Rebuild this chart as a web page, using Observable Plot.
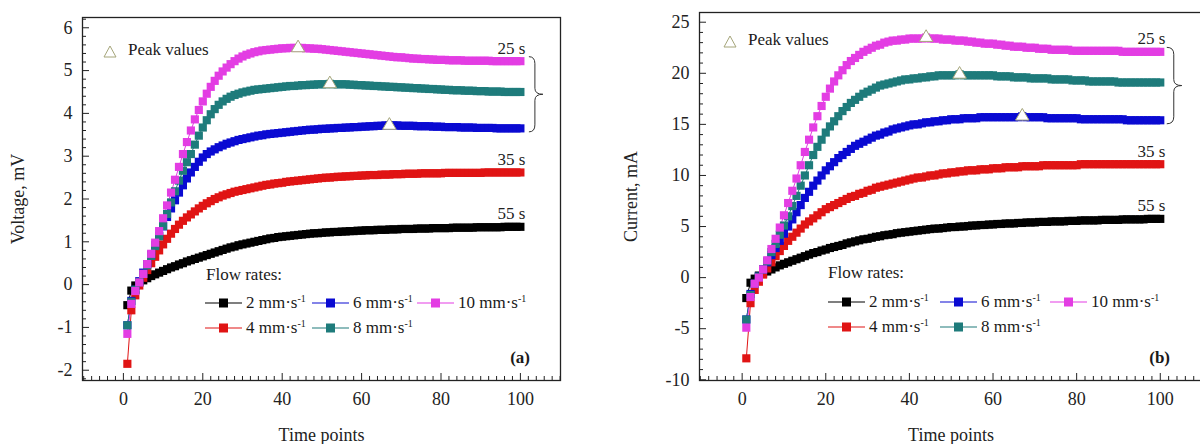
<!DOCTYPE html>
<html><head><meta charset="utf-8">
<script src="https://cdn.jsdelivr.net/npm/d3@7"></script>
<script src="https://cdn.jsdelivr.net/npm/@observablehq/plot@0.6"></script>
<style>
body{margin:0;background:#fff;font-family:"Liberation Serif",serif;}
#wrap{position:relative;width:1200px;height:444px;overflow:hidden;background:#fff;}
.panel{position:absolute;top:0;}
.ov{position:absolute;font-size:17px;color:#1a1a1a;white-space:nowrap;line-height:20px;font-family:"Liberation Serif",serif;}
.item{display:flex;align-items:center;}
.item svg{margin-right:4px;}
sup{font-size:10px;vertical-align:6px;line-height:0;}
</style></head><body><div id="wrap"></div>
<script>
// ---------- data ----------
const time = Array.from({length: 100}, (_, i) => i + 1);
const series = ["2", "4", "6", "8", "10"];
const seriesLabels = ["2 mm·s", "4 mm·s", "6 mm·s", "8 mm·s", "10 mm·s"];
const colors = ["#000000", "#e01414", "#0a0ad2", "#1e7b7b", "#e33de3"];

// Voltage (mV), panel (a)
const volt2 = [-0.48,-0.14,-0.02,0.05,0.10,0.15,0.20,0.24,0.28,0.32,
0.36,0.40,0.43,0.47,0.50,0.54,0.57,0.60,0.63,0.66,
0.69,0.72,0.75,0.78,0.81,0.84,0.87,0.89,0.92,0.94,
0.96,0.98,1.00,1.02,1.04,1.06,1.08,1.09,1.11,1.12,
1.13,1.14,1.15,1.16,1.17,1.18,1.19,1.20,1.20,1.21,
1.22,1.22,1.23,1.23,1.24,1.24,1.25,1.25,1.26,1.26,
1.27,1.27,1.27,1.28,1.28,1.28,1.29,1.29,1.29,1.30,
1.30,1.30,1.30,1.31,1.31,1.31,1.31,1.32,1.32,1.32,
1.32,1.32,1.33,1.33,1.33,1.33,1.33,1.33,1.34,1.34,
1.34,1.34,1.34,1.34,1.34,1.35,1.35,1.35,1.35,1.35];
const volt4 = [-1.85,-0.60,-0.25,-0.02,0.16,0.34,0.50,0.65,0.80,0.94,
1.07,1.19,1.30,1.40,1.49,1.57,1.64,1.71,1.78,1.84,
1.90,1.95,2.00,2.04,2.08,2.11,2.14,2.17,2.19,2.21,
2.23,2.25,2.27,2.29,2.31,2.33,2.34,2.36,2.37,2.38,
2.40,2.41,2.42,2.43,2.44,2.45,2.46,2.47,2.48,2.49,
2.50,2.50,2.51,2.52,2.52,2.53,2.53,2.54,2.54,2.55,
2.55,2.56,2.56,2.56,2.57,2.57,2.57,2.58,2.58,2.58,
2.59,2.59,2.59,2.59,2.60,2.60,2.60,2.60,2.60,2.60,
2.61,2.61,2.61,2.61,2.61,2.61,2.61,2.61,2.61,2.61,
2.62,2.62,2.62,2.62,2.62,2.62,2.62,2.62,2.62,2.62];
const volt6 = [-0.95,-0.38,-0.12,0.08,0.28,0.48,0.70,0.92,1.14,1.36,
1.58,1.78,1.97,2.15,2.32,2.48,2.62,2.75,2.87,2.97,
3.05,3.11,3.16,3.21,3.25,3.29,3.32,3.35,3.38,3.40,
3.42,3.44,3.46,3.48,3.49,3.51,3.52,3.53,3.54,3.55,
3.56,3.57,3.58,3.59,3.60,3.61,3.62,3.62,3.63,3.64,
3.64,3.65,3.65,3.66,3.66,3.67,3.67,3.68,3.68,3.69,
3.69,3.70,3.70,3.71,3.71,3.72,3.72,3.72,3.72,3.71,
3.71,3.71,3.71,3.70,3.70,3.70,3.70,3.69,3.69,3.69,
3.68,3.68,3.68,3.68,3.67,3.67,3.67,3.67,3.66,3.66,
3.66,3.66,3.66,3.65,3.65,3.65,3.65,3.65,3.65,3.65];
const volt8 = [-0.95,-0.40,-0.12,0.06,0.25,0.45,0.67,0.90,1.13,1.37,
1.65,1.92,2.18,2.43,2.66,2.86,3.05,3.27,3.48,3.67,
3.84,3.98,4.10,4.20,4.28,4.34,4.39,4.43,4.46,4.49,
4.51,4.53,4.55,4.56,4.57,4.58,4.59,4.60,4.61,4.62,
4.63,4.64,4.64,4.65,4.66,4.66,4.67,4.67,4.68,4.68,
4.68,4.69,4.68,4.68,4.68,4.68,4.67,4.67,4.66,4.66,
4.65,4.65,4.64,4.64,4.63,4.63,4.62,4.62,4.61,4.61,
4.60,4.60,4.59,4.59,4.58,4.58,4.57,4.57,4.56,4.56,
4.55,4.55,4.54,4.54,4.54,4.53,4.53,4.53,4.52,4.52,
4.52,4.51,4.51,4.51,4.51,4.50,4.50,4.50,4.50,4.50];
const volt10 = [-1.15,-0.45,-0.15,0.05,0.25,0.48,0.72,0.98,1.25,1.55,
1.85,2.15,2.45,2.75,3.05,3.33,3.60,3.86,4.08,4.28,
4.46,4.62,4.76,4.88,4.98,5.07,5.15,5.22,5.28,5.33,
5.37,5.40,5.43,5.45,5.47,5.48,5.49,5.50,5.51,5.52,
5.52,5.53,5.53,5.53,5.53,5.52,5.52,5.51,5.51,5.50,
5.49,5.48,5.47,5.46,5.45,5.44,5.43,5.42,5.41,5.40,
5.39,5.38,5.37,5.36,5.35,5.34,5.33,5.32,5.31,5.31,
5.30,5.29,5.28,5.28,5.27,5.27,5.26,5.26,5.25,5.25,
5.25,5.24,5.24,5.24,5.24,5.23,5.23,5.23,5.23,5.23,
5.23,5.23,5.22,5.22,5.22,5.22,5.22,5.22,5.22,5.22];

// Current (mA), panel (b)
const curr2 = [-2.0,-0.5,-0.1,0.2,0.4,0.6,0.8,1.0,1.2,1.35,
1.5,1.65,1.8,1.95,2.1,2.25,2.4,2.5,2.65,2.75,
2.9,3.0,3.1,3.2,3.35,3.45,3.55,3.65,3.75,3.8,
3.9,4.0,4.05,4.15,4.2,4.25,4.35,4.4,4.45,4.5,
4.55,4.6,4.65,4.7,4.75,4.8,4.8,4.85,4.9,4.95,
4.95,5.0,5.0,5.05,5.1,5.1,5.15,5.15,5.2,5.2,
5.25,5.25,5.3,5.3,5.3,5.35,5.35,5.4,5.4,5.4,
5.45,5.45,5.45,5.5,5.5,5.5,5.5,5.55,5.55,5.55,
5.6,5.6,5.6,5.6,5.6,5.65,5.65,5.65,5.65,5.65,
5.7,5.7,5.7,5.7,5.7,5.7,5.75,5.75,5.75,5.75];
const curr4 = [-7.9,-2.5,-1.2,-0.4,0.3,0.9,1.5,2.1,2.6,3.1,
3.6,4.0,4.4,4.8,5.2,5.5,5.8,6.1,6.4,6.7,
6.9,7.1,7.3,7.5,7.7,7.9,8.0,8.2,8.3,8.5,
8.6,8.8,8.9,9.0,9.1,9.2,9.3,9.4,9.5,9.6,
9.7,9.8,9.8,9.9,10.0,10.0,10.1,10.2,10.2,10.3,
10.3,10.4,10.4,10.5,10.5,10.5,10.6,10.6,10.6,10.7,
10.7,10.7,10.8,10.8,10.8,10.8,10.9,10.9,10.9,10.9,
10.9,11.0,11.0,11.0,11.0,11.0,11.0,11.0,11.0,11.0,
11.1,11.1,11.1,11.1,11.1,11.1,11.1,11.1,11.1,11.1,
11.1,11.1,11.1,11.1,11.1,11.1,11.1,11.1,11.1,11.1];
const curr6 = [-4.1,-1.6,-0.6,0.1,0.8,1.5,2.2,2.9,3.6,4.3,
5.0,5.7,6.4,7.1,7.8,8.4,9.0,9.5,10.0,10.5,
10.9,11.3,11.7,12.0,12.3,12.6,12.9,13.1,13.3,13.5,
13.7,13.9,14.0,14.2,14.3,14.5,14.6,14.7,14.8,14.9,
15.0,15.0,15.1,15.2,15.2,15.3,15.3,15.4,15.4,15.5,
15.5,15.5,15.6,15.6,15.6,15.6,15.7,15.7,15.7,15.7,
15.7,15.7,15.7,15.7,15.7,15.7,15.8,15.7,15.7,15.7,
15.7,15.7,15.6,15.6,15.6,15.6,15.6,15.6,15.6,15.6,
15.5,15.5,15.5,15.5,15.5,15.5,15.5,15.5,15.5,15.5,
15.5,15.4,15.4,15.4,15.4,15.4,15.4,15.4,15.4,15.4];
const curr8 = [-4.1,-1.7,-0.6,0.1,0.8,1.6,2.5,3.3,4.2,5.1,
6.0,7.0,8.0,9.0,10.0,11.0,12.0,12.8,13.5,14.2,
14.8,15.3,15.8,16.3,16.7,17.1,17.4,17.7,18.0,18.2,
18.4,18.6,18.8,18.9,19.0,19.1,19.2,19.3,19.4,19.4,
19.5,19.5,19.6,19.6,19.7,19.7,19.8,19.8,19.8,19.8,
19.8,19.9,19.8,19.8,19.8,19.8,19.8,19.8,19.8,19.8,
19.7,19.7,19.7,19.7,19.6,19.6,19.6,19.6,19.5,19.5,
19.5,19.5,19.5,19.4,19.4,19.4,19.4,19.4,19.3,19.3,
19.3,19.3,19.2,19.2,19.2,19.2,19.2,19.2,19.2,19.1,
19.1,19.1,19.1,19.1,19.1,19.1,19.1,19.1,19.1,19.1];
const curr10 = [-4.9,-1.9,-0.6,0.0,0.8,1.7,2.8,3.8,4.9,6.1,
7.3,8.5,9.7,11.0,12.3,13.5,14.7,15.8,16.8,17.7,
18.5,19.2,19.8,20.3,20.8,21.2,21.5,21.8,22.1,22.3,
22.5,22.7,22.8,23.0,23.1,23.2,23.2,23.3,23.3,23.4,
23.4,23.4,23.4,23.5,23.4,23.4,23.4,23.3,23.3,23.3,
23.2,23.2,23.2,23.1,23.1,23.0,23.0,22.9,22.9,22.9,
22.8,22.8,22.7,22.7,22.6,22.6,22.6,22.5,22.5,22.5,
22.4,22.4,22.4,22.3,22.3,22.3,22.3,22.3,22.2,22.2,
22.2,22.2,22.2,22.2,22.2,22.2,22.2,22.2,22.2,22.2,
22.1,22.1,22.1,22.1,22.1,22.1,22.1,22.1,22.1,22.1];

// peak markers (series, time point)
const peakSeries = ["6", "8", "10"];
const peakTimes = [67, 52, 44];
// duration labels at curve ends
const endLabelSeries = ["10", "4", "2"];
const endLabelText = ["25 s", "35 s", "55 s"];

// ticks
const xMajor = [0, 20, 40, 60, 80, 100];
const xMinor = d3.range(-10, 111, 2).filter(d => !xMajor.includes(d));
const voltMajor = [-2, -1, 0, 1, 2, 3, 4, 5, 6];
const voltMinor = d3.range(-11, 32).map(d => d / 5).filter(d => !Number.isInteger(d));
const currMajor = [-10, -5, 0, 5, 10, 15, 20, 25];
const currMinor = d3.range(-10, 26).filter(d => d % 5 !== 0);

// ---------- drawing ----------
const wrap = document.getElementById("wrap");

function makePanel(cfg) {
  const rows = series.flatMap((s, k) => cfg.values[k].map((v, i) => ({t: time[i], v, s})));
  const bySeries = s => rows.filter(r => r.s === s);
  const peaks = peakSeries.map((s, j) => rows.find(r => r.s === s && r.t === peakTimes[j]));
  const ends = endLabelSeries.map((s, j) => ({...rows.find(r => r.s === s && r.t === 100), label: endLabelText[j]}));
  const ink = "#222";
  const marks = [
    Plot.frame({stroke: ink, strokeWidth: 1.3}),
    Plot.axisX({ticks: xMinor, tickSize: -4, tickFormat: () => "", label: null, stroke: ink}),
    Plot.axisX({ticks: xMajor, tickSize: -7, tickFormat: () => "", label: null, stroke: ink}),
    Plot.axisX({ticks: xMajor, tickSize: 0, tickPadding: 12, tickFormat: d => String(d), fill: ink,
      label: "Time points", labelAnchor: "center", labelOffset: cfg.xLabelOffset, labelArrow: "none"}),
    Plot.axisY({ticks: cfg.yMinor, tickSize: -4, tickFormat: () => "", label: null, stroke: ink}),
    Plot.axisY({ticks: cfg.yMajor, tickSize: -7, tickFormat: () => "", label: null, stroke: ink}),
    Plot.axisY({ticks: cfg.yMajor, tickSize: 0, tickPadding: 10, tickFormat: d => String(d), fill: ink,
      label: cfg.yLabel, labelAnchor: "center", labelOffset: cfg.yLabelOffset, labelArrow: "none"}),
    ...series.map((s, k) => Plot.line(bySeries(s), {x: "t", y: "v", stroke: colors[k], strokeWidth: 1})),
    ...series.map((s, k) => Plot.dot(bySeries(s), {x: "t", y: "v", symbol: "square", r: 4.6, fill: colors[k]})),
    Plot.dot(peaks, {x: "t", y: "v", symbol: "triangle", r: 5, fill: "white", stroke: "#a5a57a", strokeWidth: 1}),
    Plot.text(ends, {x: "t", y: "v", text: "label", dy: -13, dx: 5, textAnchor: "end", fontSize: 17, fill: ink})
  ];
  const plot = Plot.plot({
    width: cfg.width, height: 444,
    marginLeft: cfg.ml, marginRight: cfg.mr, marginTop: cfg.mt, marginBottom: 64,
    x: {domain: cfg.xDomain},
    y: {domain: cfg.yDomain},
    style: {fontFamily: "Liberation Serif", fontSize: "18px", background: "transparent", color: ink, overflow: "visible"},
    marks
  });
  // curly brace grouping the 6/8/10 mm·s-1 curves, placed with the plot's own scales
  const X = plot.scale("x"), Y = plot.scale("y");
  const xe = X.apply(100);
  const yt = Y.apply(cfg.values[4][99]) - 4, yb = Y.apply(cfg.values[2][99]) + 4, ym = (yt + yb) / 2;
  const [o0, o1, o2] = cfg.brace;
  const x0 = xe + o0, x1 = xe + o1, x2 = xe + o2;
  d3.select(plot).append("path")
    .attr("d", `M${x0},${yt} Q${x1},${yt} ${x1},${yt + 7} L${x1},${ym - 6} Q${x1},${ym} ${x2},${ym} Q${x1},${ym} ${x1},${ym + 6} L${x1},${yb - 7} Q${x1},${yb} ${x0},${yb}`)
    .attr("fill", "none").attr("stroke", "#333").attr("stroke-width", 1);
  plot.classList.add("panel");
  plot.style.left = cfg.left + "px";
  return plot;
}

wrap.appendChild(makePanel({
  values: [volt2, volt4, volt6, volt8, volt10], width: 600, left: 0,
  ml: 82, mr: 40, mt: 17, xDomain: [-10.3, 110.1], yDomain: [-2.24, 6.24],
  yMajor: voltMajor, yMinor: voltMinor, yLabel: "Voltage, mV", yLabelOffset: 71, xLabelOffset: 60,
  brace: [9, 15, 23]
}));
wrap.appendChild(makePanel({
  values: [curr2, curr4, curr6, curr8, curr10], width: 602, left: 600,
  ml: 99, mr: 0, mt: 12, xDomain: [-10.2, 110.1], yDomain: [-10.07, 25.95],
  yMajor: currMajor, yMinor: currMinor, yLabel: "Current, mA", yLabelOffset: 75, xLabelOffset: 60,
  brace: [7, 14, 22]
}));

// ---------- in-plot legends and panel tags ----------
function ov(html, left, top, extra = "") {
  const d = document.createElement("div");
  d.className = "ov";
  d.style.left = left + "px"; d.style.top = top + "px";
  d.style.cssText += extra;
  d.innerHTML = html;
  wrap.appendChild(d);
  return d;
}
const swatch = c => `<svg width="37" height="10"><line x1="0" x2="37" y1="5" y2="5" stroke="${c}" stroke-width="1.2"/><rect x="14" y="0.5" width="9" height="9" fill="${c}"/></svg>`;
const tri = `<svg width="14" height="13"><path d="M7,1 L13,12 L1,12 Z" fill="white" stroke="#a5a57a" stroke-width="1"/></svg>`;
function legend(l) {
  ov(tri, l.tri[0], l.tri[1]);
  ov("Peak values", l.peak[0], l.peak[1]);
  ov("Flow rates:", l.flow[0], l.flow[1]);
  l.items.forEach(([k, x, y]) => ov(`<div class="item">${swatch(colors[k])}<span>${seriesLabels[k]}<sup>-1</sup></span></div>`, x, y));
}
legend({tri: [103, 43], peak: [128, 40], flow: [206, 265],
  items: [[0, 205, 293], [2, 312, 293], [4, 417, 293], [1, 205, 318], [3, 312, 318]]});
legend({tri: [723, 33], peak: [748, 30], flow: [828, 263],
  items: [[0, 828, 292], [2, 940, 292], [4, 1050, 292], [1, 828, 317], [3, 940, 317]]});
ov("(a)", 0, 348, "left:auto;right:670px;font-weight:bold;");
ov("(b)", 0, 348, "left:auto;right:30px;font-weight:bold;");
</script></body></html>
